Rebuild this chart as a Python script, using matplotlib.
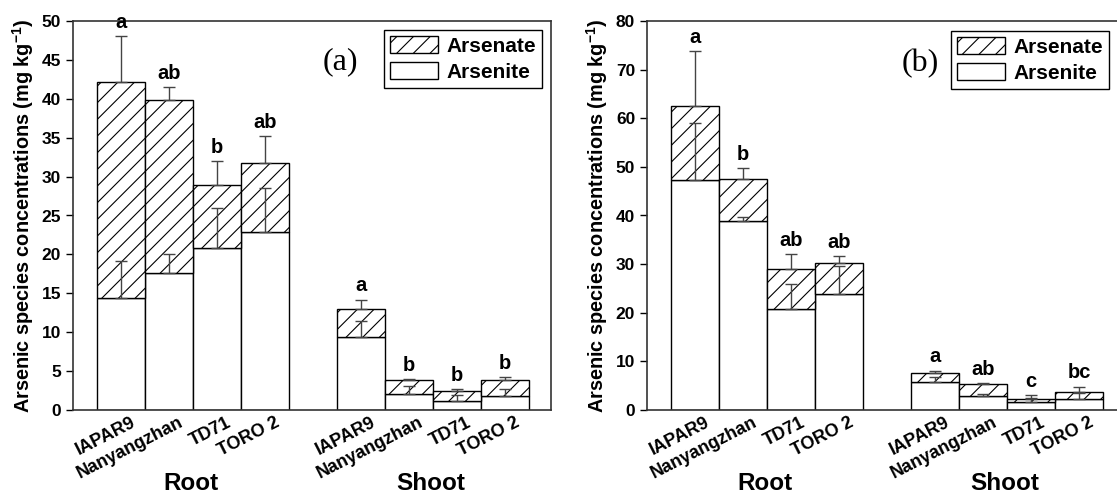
import matplotlib
matplotlib.use('Agg')
import matplotlib.pyplot as plt
from matplotlib.patches import Patch

plt.rcParams['font.family'] = ['Liberation Sans', 'DejaVu Sans']
plt.rcParams['font.weight'] = 'bold'
plt.rcParams['mathtext.fontset'] = 'custom'
plt.rcParams['mathtext.bf'] = 'Liberation Sans:bold'
plt.rcParams['mathtext.rm'] = 'Liberation Sans:bold'
plt.rcParams['hatch.linewidth'] = 0.8

cultivars = ['IAPAR9', 'Nanyangzhan', 'TD71', 'TORO 2']
tissues = ['Root', 'Shoot']
positions = [1, 2, 3, 4, 6, 7, 8, 9]

# Panel (a)
a_arsenite = [14.4, 17.65, 20.8, 22.9, 9.4, 2.1, 1.15, 1.85]
a_total = [42.2, 39.9, 28.9, 31.8, 13.0, 3.8, 2.5, 3.8]
a_arsenite_err = [4.7, 2.45, 5.2, 5.6, 2.1, 1.0, 0.75, 0.85]
a_total_err = [5.9, 1.6, 3.1, 3.4, 1.2, 0.2, 0.2, 0.4]
a_letters = ['a', 'ab', 'b', 'ab', 'a', 'b', 'b', 'b']

# Panel (b)
b_arsenite = [47.4, 38.9, 20.7, 23.9, 5.7, 2.8, 1.6, 2.3]
b_total = [62.6, 47.5, 28.9, 30.3, 7.6, 5.4, 2.3, 3.6]
b_arsenite_err = [11.7, 0.8, 5.2, 5.8, 1.1, 0.5, 0.8, 1.1]
b_total_err = [11.2, 2.2, 3.1, 1.4, 0.5, 0.2, 0.8, 1.2]
b_letters = ['a', 'b', 'ab', 'ab', 'a', 'ab', 'c', 'bc']

W, H = 1117, 496
fig = plt.figure(figsize=(W / 100, H / 100), dpi=100)

ax_a = fig.add_axes([73 / W, (H - 410) / H, 478 / W, 389 / H])
ax_b = fig.add_axes([647 / W, (H - 410) / H, 530 / W, 389 / H])

spine_color = '#333333'
err_color = '#444444'
label_shift = 0.36


def draw_panel(ax, arsenite, total, ars_err, tot_err, letters, ymax, ystep, xmax, tag, tag_xy, show_right):
    arsenate = [t - s for t, s in zip(total, arsenite)]
    ax.bar(positions, arsenite, width=1.0, color='white', edgecolor='black', linewidth=1.0, zorder=2)
    ax.bar(positions, arsenate, width=1.0, bottom=arsenite, color='white', edgecolor='black',
           linewidth=1.0, hatch='//', zorder=2)
    zeros = [0] * len(positions)
    ax.errorbar(positions, arsenite, yerr=[zeros, ars_err], fmt='none', ecolor=err_color,
                elinewidth=1.0, capsize=4, capthick=1.0, zorder=3)
    ax.errorbar(positions, total, yerr=[zeros, tot_err], fmt='none', ecolor=err_color,
                elinewidth=1.0, capsize=4, capthick=1.0, zorder=3)
    for x, t, e, lab in zip(positions, total, tot_err, letters):
        ax.annotate(lab, (x, t + e), xytext=(0, 3), textcoords='offset points',
                    ha='center', va='bottom', fontsize=14.5, fontweight='bold')
    ax.set_xlim(0, xmax)
    ax.set_ylim(0, ymax)
    ax.set_yticks(range(0, ymax + 1, ystep))
    ax.tick_params(axis='y', direction='out', length=5, width=1.0, labelsize=12.5, colors='black')
    ax.set_xticks([p + label_shift for p in positions])
    ax.set_xticklabels(cultivars * 2, rotation=27, ha='right', va='top', fontsize=13,
                       fontweight='bold')
    ax.tick_params(axis='x', length=0, pad=3)
    for sp in ax.spines.values():
        sp.set_color(spine_color)
        sp.set_linewidth(1.2)
    ax.spines['right'].set_visible(show_right)
    for gx, name in zip([2.45, 7.45], tissues):
        ax.text(gx, -0.19, name, transform=ax.get_xaxis_transform(), ha='center', va='center',
                fontsize=17.5, fontweight='bold')
    ax.set_ylabel(r'Arsenic species concentrations (mg kg$^{\mathbf{-1}}$)', fontsize=14.3,
                  fontweight='bold', labelpad=4)
    ax.text(tag_xy[0], tag_xy[1], tag, transform=ax.transAxes, ha='center', va='center',
            fontsize=23, family='Liberation Serif', fontweight='normal')
    handles = [Patch(facecolor='white', edgecolor='black', hatch='//', linewidth=1.0, label='Arsenate'),
               Patch(facecolor='white', edgecolor='black', linewidth=1.0, label='Arsenite')]
    return handles


h = draw_panel(ax_a, a_arsenite, a_total, a_arsenite_err, a_total_err, a_letters, 50, 5, 9.96,
               '(a)', (0.56, 0.895), True)
leg = ax_a.legend(handles=h, loc='upper right', bbox_to_anchor=(542 / W, (H - 30) / H),
                  bbox_transform=fig.transFigure, borderaxespad=0, fancybox=False,
                  edgecolor='black', fontsize=15, handlelength=2.3, handleheight=0.85,
                  labelspacing=0.3, borderpad=0.3, handletextpad=0.4, framealpha=1)
leg.get_frame().set_linewidth(1.0)

h = draw_panel(ax_b, b_arsenite, b_total, b_arsenite_err, b_total_err, b_letters, 80, 10, 530 / 48,
               '(b)', (0.515, 0.89), False)
leg = ax_b.legend(handles=h, loc='upper right', bbox_to_anchor=(1109 / W, (H - 31) / H),
                  bbox_transform=fig.transFigure, borderaxespad=0, fancybox=False,
                  edgecolor='black', fontsize=15, handlelength=2.3, handleheight=0.85,
                  labelspacing=0.3, borderpad=0.3, handletextpad=0.4, framealpha=1)
leg.get_frame().set_linewidth(1.0)

fig.savefig('out.png', dpi=100)
